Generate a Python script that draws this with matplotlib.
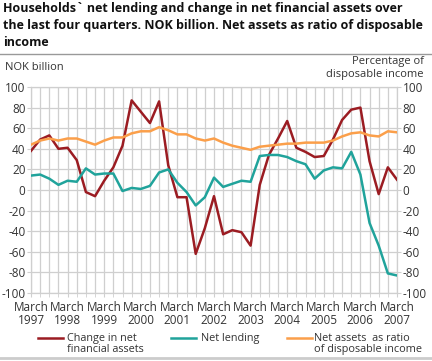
import matplotlib
matplotlib.use("Agg")
import matplotlib.pyplot as plt
from matplotlib.lines import Line2D

years = list(range(1997, 2008))
tick_labels = [f"March\n{y}" for y in years]

change_net_fin_assets = [38, 49, 53, 40, 41, 29, -2, -6, 9, 22, 43, 87, 76, 65, 86, 24, -7, -7, -62, -37,
                         -6, -43, -39, -41, -54, 5, 34, 50, 67, 41, 37, 32, 33, 49, 68, 78, 80, 28, -4, 22, 10]
net_lending = [14, 15, 11, 5, 9, 8, 21, 15, 16, 16, -1, 2, 1, 4, 17, 20, 7, -2, -15, -7,
               12, 3, 6, 9, 8, 33, 34, 34, 32, 28, 25, 11, 19, 22, 21, 37, 15, -32, -54, -81, -83]
net_assets_ratio = [44, 48, 50, 48, 50, 50, 47, 44, 48, 51, 51, 55, 57, 57, 61, 58, 54, 54, 50, 48,
                    50, 46, 43, 41, 39, 42, 43, 44, 45, 45, 46, 46, 46, 48, 52, 55, 56, 53, 52, 57, 56]
series_labels = ["Change in net\nfinancial assets", "Net lending", "Net assets  as ratio\nof disposable income"]

red = "#9b1c22"
teal = "#20a39b"
orange = "#fb9f4a"
grid_c = "#cfcfcf"
text_c = "#333333"

plt.rcParams['font.family'] = ['Open Sans', 'DejaVu Sans']

fig = plt.figure(figsize=(4.32, 3.61), dpi=100)
ax = fig.add_axes([31/432, 1-293/361, 366/432, 206/361])

x = list(range(len(change_net_fin_assets)))
ax.plot(x, change_net_fin_assets, color=red, lw=1.8, zorder=3)
ax.plot(x, net_lending, color=teal, lw=1.8, zorder=3)
ax.plot(x, net_assets_ratio, color=orange, lw=1.8, zorder=3)

ax.set_xlim(0, 40)
ax.set_ylim(-100, 100)
ax.set_xticks(range(0, 41, 4))
ax.set_xticklabels(tick_labels, fontsize=8.5, color=text_c, linespacing=1.0)
ax.set_xticks(range(0, 41), minor=True)
ax.set_yticks(range(-100, 101, 20))
ax.set_yticklabels([str(v) for v in range(-100, 101, 20)], fontsize=8.5, color=text_c)
ax.tick_params(axis='x', which='both', length=3, color=grid_c, pad=3)
ax.tick_params(axis='y', length=3, color=grid_c, pad=1)
ax.grid(True, which='both', axis='x', color=grid_c, lw=0.9, zorder=0)
ax.grid(True, which='major', axis='y', color=grid_c, lw=0.9, zorder=0)
for s in ax.spines.values():
    s.set_color(grid_c)
    s.set_linewidth(0.9)

ax2 = ax.twinx()
ax2.set_ylim(-100, 100)
ax2.set_yticks(range(-100, 101, 20))
ax2.set_yticklabels([str(v) for v in range(-100, 101, 20)], fontsize=8.5, color=text_c)
ax2.tick_params(axis='y', length=3, color=grid_c, pad=1)
for s in ax2.spines.values():
    s.set_visible(False)

fig.text(3/432, 1-2/361,
         "Households` net lending and change in net financial assets over\n"
         "the last four quarters. NOK billion. Net assets as ratio of disposable\n"
         "income", fontsize=9, fontweight='bold', va='top', ha='left', color='#111111',
         linespacing=1.4)
fig.add_artist(Line2D([0, 1], [1-54/361, 1-54/361], color='#999999', lw=1))
fig.text(5/432, 1-67/361, "NOK billion", fontsize=8, color=text_c, va='center', ha='left')
fig.text(424/432, 1-68/361, "Percentage of\ndisposable income", fontsize=8, color=text_c,
         va='center', ha='right', linespacing=1.15)

# legend drawn manually to match layout
colors = [red, teal, orange]
handle_x = [(38, 63), (171, 196), (287, 312)]
text_x = [67, 201, 314]
for c, (x0, x1), tx, lab in zip(colors, handle_x, text_x, series_labels):
    fig.add_artist(Line2D([x0/432, x1/432], [1-338/361, 1-338/361], color=c, lw=1.8))
    fig.text(tx/432, 1-333/361, lab, fontsize=7.8, color=text_c, va='top', ha='left',
             linespacing=1.0)
fig.add_artist(Line2D([0, 1], [1-358/361, 1-358/361], color='#cccccc', lw=2))

fig.savefig("out.png", dpi=100)
